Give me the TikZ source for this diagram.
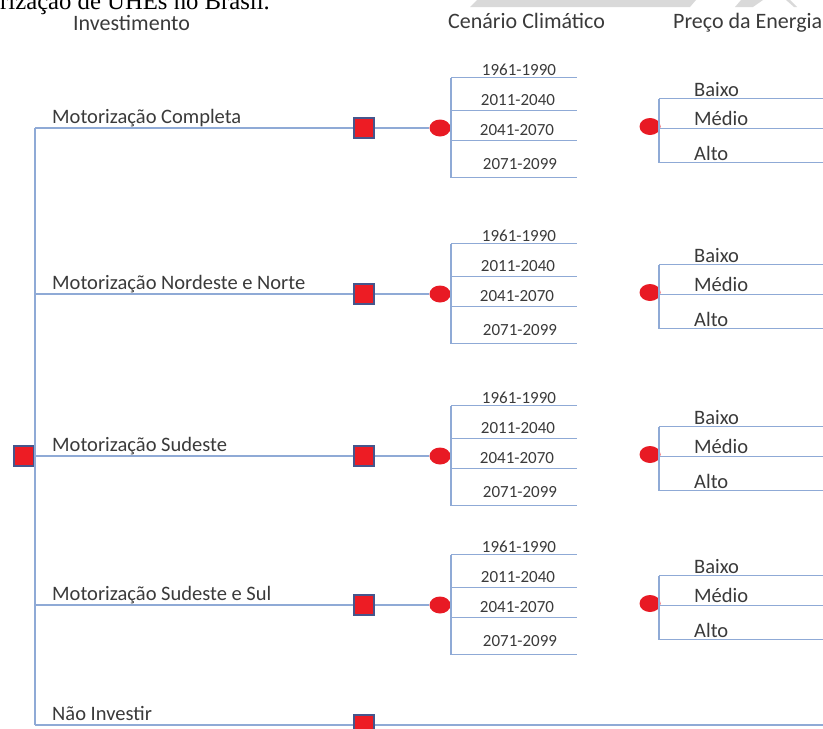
\documentclass[tikz,border=0pt]{standalone}
\usepackage{fontspec}
\setmainfont{Carlito}
\newfontfamily\capfont{Liberation Serif}
\usetikzlibrary{shapes.geometric}
\definecolor{branch}{RGB}{143,170,214}
\definecolor{sqred}{RGB}{237,28,36}
\definecolor{sqedge}{RGB}{70,86,140}
\definecolor{dotred}{RGB}{232,26,36}
\definecolor{txt}{RGB}{58,58,58}
\definecolor{wm}{RGB}{217,217,217}
\tikzset{
  br/.style={draw=branch, line width=1.6pt},
  sqnode/.style={rectangle, fill=sqred, draw=sqedge, line width=1.5pt, minimum size=20pt, inner sep=0pt},
  dotnode/.style={ellipse, fill=dotred, draw=none, minimum width=21pt, minimum height=17pt, inner sep=0pt},
  lbl/.style={inner sep=0pt, text=txt, font=\fontsize{20.5}{22}\selectfont},
  yr/.style={inner sep=0pt, text=txt, font=\fontsize{17}{19}\selectfont},
  hd/.style={inner sep=0pt, text=txt, font=\fontsize{22}{24}\selectfont}
}
\begin{document}
\begin{tikzpicture}[x=1pt,y=-1pt]
\useasboundingbox (0,0) rectangle (823,729);
% faint watermark at top
\fill[wm] (470,7) -- (477,0) -- (696,0) -- (690,7) -- cycle;
\fill[wm] (735,7) -- (741,0) -- (763,0) -- (753,7) -- cycle;
\fill[wm] (786,0) -- (790,0) -- (797,7) -- (794,7) -- cycle;
% caption (cut off at top, as in the reference)
\node[anchor=base east, inner sep=0pt, font=\capfont\fontsize{24.7}{26}\selectfont] (cap) at (270,9) {rização de UHEs no Brasil.};
% headings
\node[hd, anchor=base west] (h1) at (73,30) {Investimento};
\node[hd, anchor=base west] (h2) at (448,28) {Cenário Climático};
\node[hd, anchor=base west] (h3) at (673,28) {Preço da Energia};
% root decision
\node[sqnode] (root) at (24,456) {};
\foreach \i/\by/\lab in {1/128/Motorização Completa, 2/294/Motorização Nordeste e Norte, 3/456/Motorização Sudeste, 4/605/Motorização Sudeste e Sul}{
  \pgfmathsetmacro\cy{\by-1.5}
  \coordinate (j\i) at (35,\by);
  \node[sqnode] (s\i) at (364,\by) {};
  \node[dotnode] (c\i) at (440,\by) {};
  \node[lbl, anchor=base west] (t\i) at (52,\by-5) {\lab};
  \draw[br] (j\i) -- (s\i) -- (c\i);
  % climate scenarios
  \coordinate (ca\i) at (451,\cy-49);
  \coordinate (cb\i) at (451,\cy-16);
  \coordinate (cc\i) at (451,\cy+14);
  \coordinate (cd\i) at (451,\cy+51);
  \coordinate (ea\i) at (577,\cy-49);
  \coordinate (eb\i) at (577,\cy-16);
  \coordinate (ec\i) at (577,\cy+14);
  \coordinate (ed\i) at (577,\cy+51);
  \draw[br] (ca\i) -- (cd\i);
  \draw[br] (ca\i) -- (ea\i);
  \draw[br] (cb\i) -- (eb\i);
  \draw[br] (cc\i) -- (ec\i);
  \draw[br] (cd\i) -- (ed\i);
  \node[yr, anchor=base] (ya\i) at (519,\cy-51) {1961-1990};
  \node[yr, anchor=base] (yb\i) at (518,\cy-21.5) {2011-2040};
  \node[yr, anchor=base] (yc\i) at (517,\cy+8.5) {2041-2070};
  \node[yr, anchor=base] (yd\i) at (520,\cy+42.5) {2071-2099};
  % energy price
  \node[dotnode] (p\i) at (650,\cy) {};
  \coordinate (pa\i) at (659,\cy-28);
  \coordinate (pb\i) at (659,\cy+2);
  \coordinate (pc\i) at (659,\cy+36);
  \coordinate (qa\i) at (823,\cy-28);
  \coordinate (qb\i) at (823,\cy+2);
  \coordinate (qc\i) at (823,\cy+36);
  \draw[br] (pa\i) -- (pc\i);
  \draw[br] (pa\i) -- (qa\i);
  \draw[br] (pb\i) -- (qb\i);
  \draw[br] (pc\i) -- (qc\i);
  \node[lbl, anchor=base west] (la\i) at (694,\cy-30.5) {Baixo};
  \node[lbl, anchor=base west] (lb\i) at (694,\cy-1.5) {Médio};
  \node[lbl, anchor=base west] (lc\i) at (694,\cy+33.5) {Alto};
}
% do not invest
\coordinate (j5) at (35,725);
\node[sqnode] (s5) at (364,725) {};
\coordinate (e5) at (823,725);
\draw[br] (j5) -- (s5) -- (e5);
\node[lbl, anchor=base west] (t5) at (52,720) {Não Investir};
% main trunk
\draw[br] (j1) -- (j5);
\end{tikzpicture}
\end{document}
